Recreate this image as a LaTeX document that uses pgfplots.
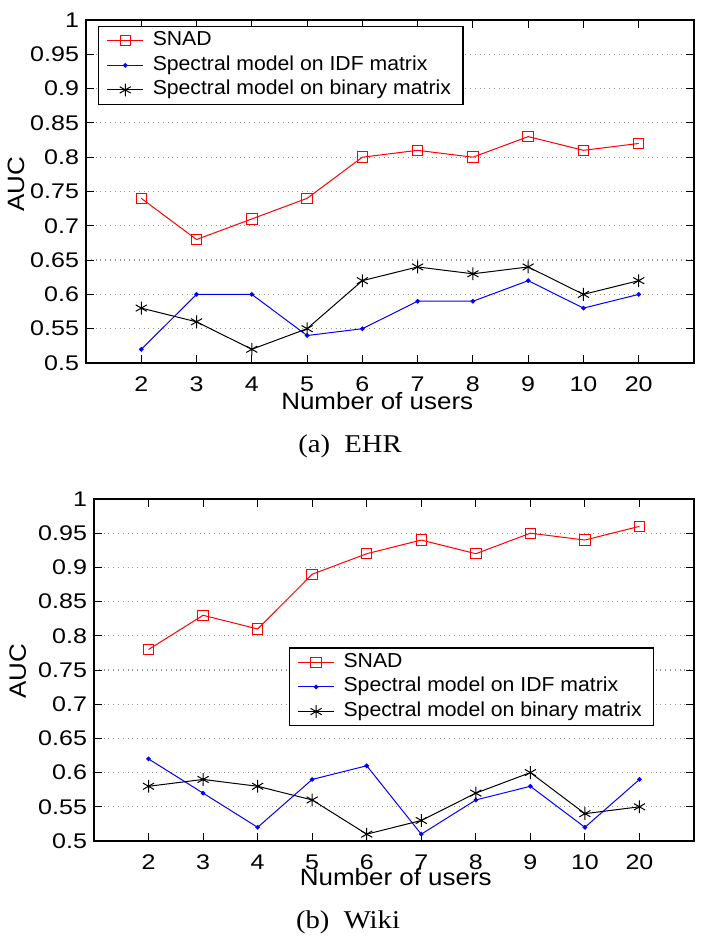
\documentclass[border=0pt]{standalone}
\usepackage{pgfplots}
\pgfplotsset{compat=1.18}
\usepackage{fontspec}
\setmainfont{Liberation Sans}
\newfontfamily\tickfont[FakeStretch=1.18]{Liberation Sans}
\newfontfamily\labfont[FakeStretch=1.1]{Liberation Sans}
\newfontfamily\legfont[FakeStretch=1.05]{Liberation Sans}
\newfontfamily\capfont[FakeStretch=1.12]{Liberation Serif}
\pgfplotsset{
  auc/.style={
    scale only axis,
    xmin=0, xmax=11, ymin=0.5, ymax=1,
    xtick={1,...,10},
    xticklabels={2,3,4,5,6,7,8,9,10,20},
    ytick={0.5,0.55,0.6,0.65,0.7,0.75,0.8,0.85,0.9,0.95,1},
    yticklabels={0.5,0.55,0.6,0.65,0.7,0.75,0.8,0.85,0.9,0.95,1},
    tick align=inside,
    xtick pos=both, ytick pos=both,
    major tick length=4pt,
    ymajorgrids,
    grid style={dotted, gray!85, line width=0.6pt},
    axis line style={line width=0.6pt},
    tick style={black, line width=0.5pt},
    ticklabel style={font=\tickfont\fontsize{10.6}{12}\selectfont},
    xticklabel style={yshift=-3.3pt},
    /pgf/number format/assume math mode=true,
    xlabel={Number of users},
    ylabel={AUC},
    label style={font=\labfont\fontsize{11.8}{13}\selectfont},
    legend cell align=left,
    legend style={font=\legfont\fontsize{10.1}{12}\selectfont, draw=black, line width=0.6pt,
      inner xsep=4pt, inner ysep=1pt, column sep=2.5pt,
      nodes={inner xsep=2pt, inner ysep=1.4pt, text height=7.2pt, text depth=2.3pt}},
    legend image code/.code={
      \draw[mark repeat=2,mark phase=2,#1] plot coordinates {(0pt,0pt) (9pt,0pt) (18pt,0pt)};
    },
  },
  snad/.style={red, line width=0.5pt, mark=square, mark size=2.6pt, mark options={solid, line width=0.5pt}},
  idf/.style={blue, line width=0.5pt, mark=*, mark size=0.9pt},
  bin/.style={black, line width=0.5pt, mark=asterisk, mark size=3.2pt, mark options={line width=0.5pt}},
}
\begin{document}
\begin{tikzpicture}
\useasboundingbox (0,0) rectangle (350.5pt,-473pt);
\begin{axis}[auc, at={(43pt,-10pt)}, anchor=north west, width=304pt, height=171.5pt,
  xlabel style={at={(axis description cs:0.479,-0.137)}, anchor=base},
  ylabel style={at={(axis description cs:-0.115,0.522)}, anchor=center},
  legend style={at={(0.02,0.983)}, anchor=north west}]
\addplot[snad] coordinates {(1,0.74)(2,0.68)(3,0.71)(4,0.74)(5,0.80)(6,0.81)(7,0.80)(8,0.83)(9,0.81)(10,0.82)};
\addlegendentry{SNAD}
\addplot[idf] coordinates {(1,0.52)(2,0.60)(3,0.60)(4,0.54)(5,0.55)(6,0.59)(7,0.59)(8,0.62)(9,0.58)(10,0.60)};
\addlegendentry{Spectral model on IDF matrix}
\addplot[bin] coordinates {(1,0.58)(2,0.56)(3,0.52)(4,0.55)(5,0.62)(6,0.64)(7,0.63)(8,0.64)(9,0.60)(10,0.62)};
\addlegendentry{Spectral model on binary matrix}
\end{axis}
\node[font=\capfont\fontsize{12.8}{15}\selectfont] at (175pt,-223pt) {(a)\ \ EHR};
\begin{axis}[auc, at={(47pt,-249.5pt)}, anchor=north west, width=300pt, height=171pt,
  xlabel style={at={(axis description cs:0.503,-0.129)}, anchor=base},
  ylabel style={at={(axis description cs:-0.127,0.497)}, anchor=center},
  legend style={at={(0.325,0.566)}, anchor=north west}]
\addplot[snad] coordinates {(1,0.78)(2,0.83)(3,0.81)(4,0.89)(5,0.92)(6,0.94)(7,0.92)(8,0.95)(9,0.94)(10,0.96)};
\addlegendentry{SNAD}
\addplot[idf] coordinates {(1,0.62)(2,0.57)(3,0.52)(4,0.59)(5,0.61)(6,0.51)(7,0.56)(8,0.58)(9,0.52)(10,0.59)};
\addlegendentry{Spectral model on IDF matrix}
\addplot[bin] coordinates {(1,0.58)(2,0.59)(3,0.58)(4,0.56)(5,0.51)(6,0.53)(7,0.57)(8,0.60)(9,0.54)(10,0.55)};
\addlegendentry{Spectral model on binary matrix}
\end{axis}
\node[font=\capfont\fontsize{12.8}{15}\selectfont] at (174pt,-461pt) {(b)\ \ Wiki};
\end{tikzpicture}
\end{document}
